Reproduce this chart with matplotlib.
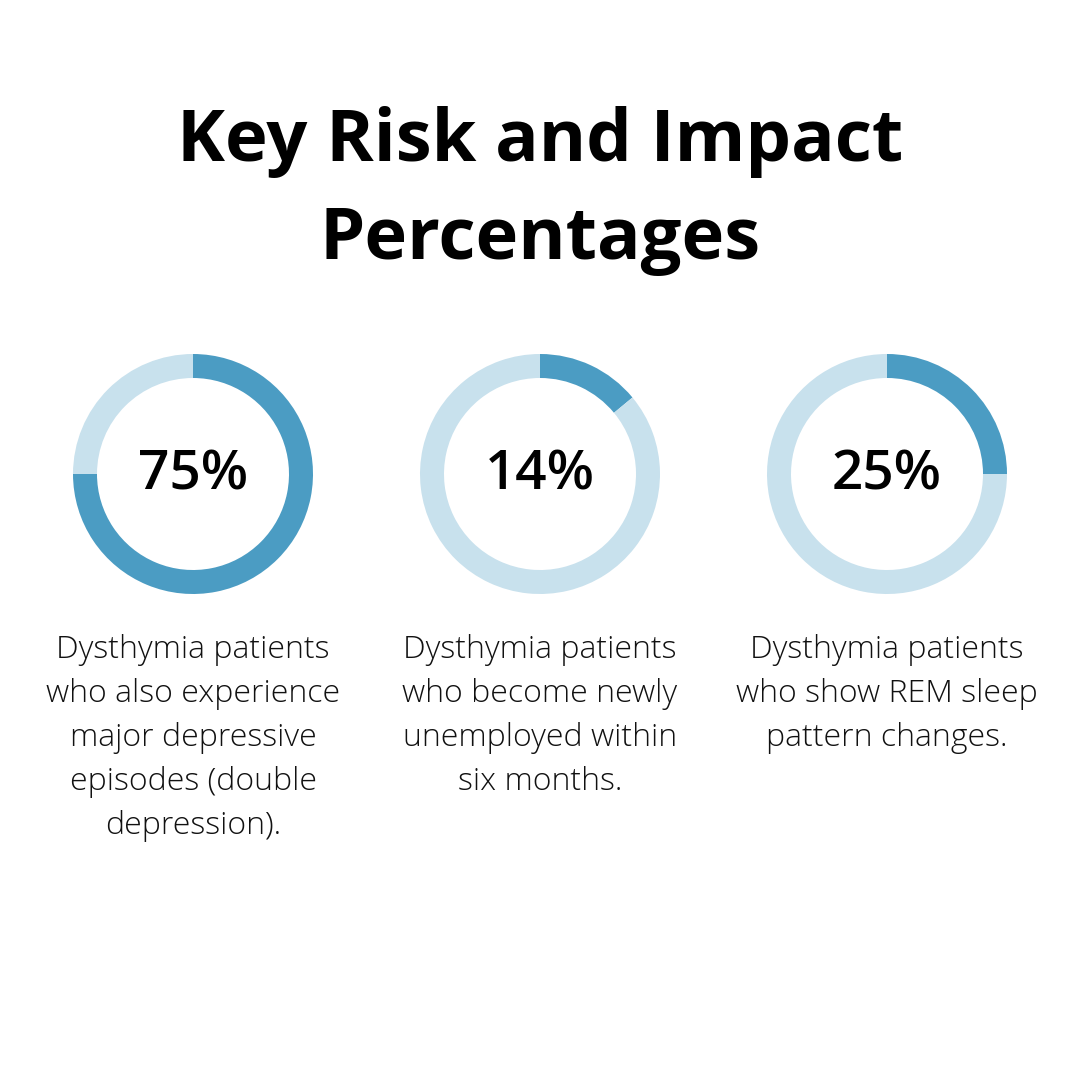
import matplotlib
matplotlib.use("Agg")
import matplotlib.pyplot as plt

title_lines = ["Key Risk and Impact", "Percentages"]
values = [75, 14, 25]
labels = ["75%", "14%", "25%"]
descriptions = [
    "Dysthymia patients\nwho also experience\nmajor depressive\nepisodes (double\ndepression).",
    "Dysthymia patients\nwho become newly\nunemployed within\nsix months.",
    "Dysthymia patients\nwho show REM sleep\npattern changes.",
]

DARK = "#4b9cc3"
LIGHT = "#c8e1ed"
W, H = 1080, 1070
fig = plt.figure(figsize=(W / 100, H / 100), dpi=100)
fig.patch.set_facecolor("white")

def fx(px):
    return px / W

def fy(py):
    return 1 - py / H

fig.text(fx(540), fy(142), title_lines[0], ha="center", va="center",
         fontsize=52, fontweight="bold", family=["Open Sans", "DejaVu Sans"], color="black")
fig.text(fx(540), fy(240), title_lines[1], ha="center", va="center",
         fontsize=52, fontweight="bold", family=["Open Sans", "DejaVu Sans"], color="black")

centers = [193, 540, 887]
cy = 474
R = 120
for cx, v, lab, desc in zip(centers, values, labels, descriptions):
    ax = fig.add_axes([fx(cx - R), fy(cy + R), 2 * R / W, 2 * R / H])
    ax.pie([v, 100 - v], colors=[DARK, LIGHT], startangle=90, counterclock=False,
           radius=1.0, wedgeprops=dict(width=0.2, edgecolor="none"))
    ax.set_xlim(-1, 1)
    ax.set_ylim(-1, 1)
    ax.set_aspect("equal")
    ax.axis("off")
    fig.text(fx(cx), fy(cy + 1), lab, ha="center", va="center", fontsize=39.5,
             fontweight="semibold", family=["Open Sans", "DejaVu Sans"], color="black")
    fig.text(fx(cx), fy(634), desc, ha="center", va="top", fontsize=23,
             fontweight="light", family=["Open Sans", "DejaVu Sans"], color="#111111",
             linespacing=1.5)

fig.savefig("out.png", dpi=100, facecolor="white")
